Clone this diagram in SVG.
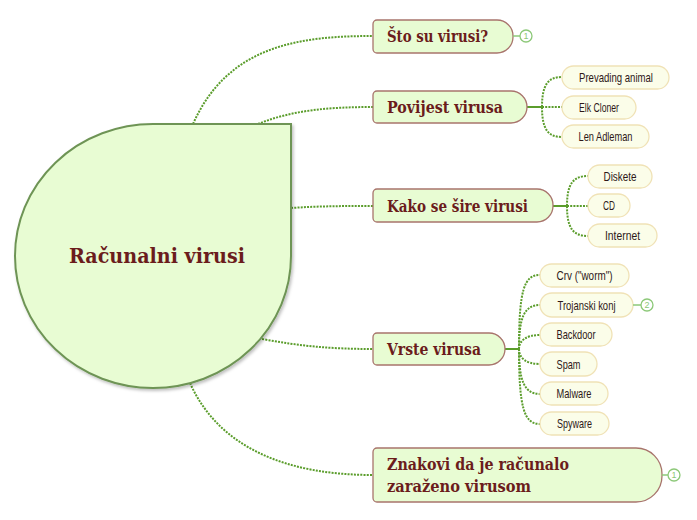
<svg xmlns="http://www.w3.org/2000/svg" width="697" height="520" viewBox="0 0 697 520">
<style>
.bg{fill:#ffffff}
.conn{fill:none;stroke:#5b9d2c;stroke-width:2;stroke-dasharray:2 1.2}
.solid{fill:none;stroke:#5b9d2c;stroke-width:2}
.main{fill:#e8fcd3;stroke:#a8746c;stroke-width:1.3}
.central{fill:#e8fcd3;stroke:#6e9455;stroke-width:2}
.sub{fill:#fbfde9;stroke:#f0e2b6;stroke-width:1.3}
.mt{font-family:"DejaVu Serif","Liberation Serif",serif;font-weight:bold;fill:#6b1c1c}
.st{font-family:"Liberation Sans","DejaVu Sans",sans-serif;font-size:13px;fill:#2e1818;text-anchor:middle}
.badge{fill:#ffffff;stroke:#8cc878;stroke-width:1.3}
.bl{stroke:#8cc878;stroke-width:1.5}
.bt{font-family:"Liberation Sans",sans-serif;font-size:9px;fill:#8cc878;text-anchor:middle}
</style>
<defs>
<filter id="sh" x="-10%" y="-10%" width="125%" height="125%">
<feDropShadow dx="1.5" dy="2" stdDeviation="1.5" flood-color="#000" flood-opacity="0.25"/>
</filter>
</defs>
<rect class="bg" x="0" y="0" width="697" height="520"/>
<g id="connectors">
<path class="conn" d="M193,124 C228,45 300,36 373,36"/>
<path class="conn" d="M258,124 C292,110 330,107 373,107"/>
<path class="conn" d="M291,208 C320,206 345,206 373,206"/>
<path class="conn" d="M262,339 C300,346 330,349 373,349"/>
<path class="conn" d="M190,383 C220,450 290,475 373,475"/>
<path class="solid" d="M527,107 H542"/>
<path class="conn" d="M542,107 C542,85 548,77 562,77"/>
<path class="conn" d="M542,107 H562"/>
<path class="conn" d="M542,107 C542,129 548,137 562,137"/>
<path class="solid" d="M553,206 H567"/>
<path class="conn" d="M567,206 C567,184 573,176 588,176"/>
<path class="conn" d="M567,206 H588"/>
<path class="conn" d="M567,206 C567,228 573,236 588,236"/>
<path class="solid" d="M505,349 H519"/>
<path class="conn" d="M519,349 C519,290 524,275 540,275"/>
<path class="conn" d="M519,349 C519,318 524,305 540,305"/>
<path class="conn" d="M519,349 C519,341 526,335 540,335"/>
<path class="conn" d="M519,349 C519,358 526,364 540,364"/>
<path class="conn" d="M519,349 C519,380 524,394 540,394"/>
<path class="conn" d="M519,349 C519,408 524,424 540,424"/>
</g>
<g id="central">
<path class="central" filter="url(#sh)" d="M153,124 L291,124 L291,256 A138,132 0 1 1 153,124 Z"/>
<text class="mt" x="157" y="263" font-size="20" text-anchor="middle" textLength="176" lengthAdjust="spacingAndGlyphs">Računalni virusi</text>
</g>
<g id="n-sto">
<path class="main" d="M377,20 H497 A16,16 0 0 1 513,36 V37 A16,16 0 0 1 497,53 H377 A4,4 0 0 1 373,49 V24 A4,4 0 0 1 377,20 Z"/>
<text class="mt" x="387" y="42" font-size="16" textLength="101" lengthAdjust="spacingAndGlyphs">Što su virusi?</text>
<line class="bl" x1="513" y1="36" x2="520" y2="36"/>
<circle class="badge" cx="526" cy="36" r="6"/>
<text class="bt" x="526" y="39.2">1</text>
</g>
<g id="n-povijest">
<path class="main" d="M377,91 H511 A16,16 0 0 1 527,107 A16,16 0 0 1 511,123 H377 A4,4 0 0 1 373,119 V95 A4,4 0 0 1 377,91 Z"/>
<text class="mt" x="387" y="113" font-size="16" textLength="116" lengthAdjust="spacingAndGlyphs">Povijest virusa</text>
</g>
<g id="n-prevading">
<rect class="sub" x="562" y="66" width="107" height="23" rx="11.5"/>
<text class="st" x="616" y="82" textLength="74" lengthAdjust="spacingAndGlyphs">Prevading animal</text>
</g>
<g id="n-elk">
<rect class="sub" x="562" y="96" width="74" height="23" rx="11.5"/>
<text class="st" x="599" y="112" textLength="40" lengthAdjust="spacingAndGlyphs">Elk Cloner</text>
</g>
<g id="n-len">
<rect class="sub" x="562" y="125" width="87" height="23" rx="11.5"/>
<text class="st" x="605.5" y="141" textLength="54" lengthAdjust="spacingAndGlyphs">Len Adleman</text>
</g>
<g id="n-kako">
<path class="main" d="M377,189 H537 A16,16 0 0 1 553,205 V206 A16,16 0 0 1 537,222 H377 A4,4 0 0 1 373,218 V193 A4,4 0 0 1 377,189 Z"/>
<text class="mt" x="387" y="212" font-size="16" textLength="141" lengthAdjust="spacingAndGlyphs">Kako se šire virusi</text>
</g>
<g id="n-diskete">
<rect class="sub" x="588" y="165" width="64" height="23" rx="11.5"/>
<text class="st" x="620" y="181" textLength="33" lengthAdjust="spacingAndGlyphs">Diskete</text>
</g>
<g id="n-cd">
<rect class="sub" x="588" y="194" width="42" height="23" rx="11.5"/>
<text class="st" x="609" y="210" textLength="12" lengthAdjust="spacingAndGlyphs">CD</text>
</g>
<g id="n-internet">
<rect class="sub" x="588" y="224" width="69" height="23" rx="11.5"/>
<text class="st" x="622.5" y="240" textLength="35" lengthAdjust="spacingAndGlyphs">Internet</text>
</g>
<g id="n-vrste">
<path class="main" d="M377,333 H489 A16,16 0 0 1 505,349 A16,16 0 0 1 489,365 H377 A4,4 0 0 1 373,361 V337 A4,4 0 0 1 377,333 Z"/>
<text class="mt" x="387" y="355" font-size="16" textLength="94" lengthAdjust="spacingAndGlyphs">Vrste virusa</text>
</g>
<g id="n-crv">
<rect class="sub" x="540" y="264" width="89" height="23" rx="11.5"/>
<text class="st" x="584.5" y="280" textLength="56" lengthAdjust="spacingAndGlyphs">Crv ("worm")</text>
</g>
<g id="n-trojanski">
<rect class="sub" x="540" y="293" width="93" height="24" rx="12"/>
<text class="st" x="586.5" y="309.5" textLength="58" lengthAdjust="spacingAndGlyphs">Trojanski konj</text>
<line class="bl" x1="633" y1="305" x2="641" y2="305"/>
<circle class="badge" cx="647" cy="305" r="6"/>
<text class="bt" x="647" y="308.2">2</text>
</g>
<g id="n-backdoor">
<rect class="sub" x="540" y="323" width="72" height="23" rx="11.5"/>
<text class="st" x="576" y="339" textLength="39" lengthAdjust="spacingAndGlyphs">Backdoor</text>
</g>
<g id="n-spam">
<rect class="sub" x="540" y="352" width="57" height="24" rx="12"/>
<text class="st" x="568.5" y="368.5" textLength="24" lengthAdjust="spacingAndGlyphs">Spam</text>
</g>
<g id="n-malware">
<rect class="sub" x="540" y="382" width="68" height="23" rx="11.5"/>
<text class="st" x="574" y="398" textLength="35" lengthAdjust="spacingAndGlyphs">Malware</text>
</g>
<g id="n-spyware">
<rect class="sub" x="540" y="412" width="69" height="23" rx="11.5"/>
<text class="st" x="574.5" y="428" textLength="35" lengthAdjust="spacingAndGlyphs">Spyware</text>
</g>
<g id="n-znakovi">
<path class="main" d="M377,448 H636 A26,26 0 0 1 662,474 V476 A26,26 0 0 1 636,502 H377 A4,4 0 0 1 373,498 V452 A4,4 0 0 1 377,448 Z"/>
<text class="mt" x="387" y="470" font-size="16" textLength="182" lengthAdjust="spacingAndGlyphs">Znakovi da je računalo</text>
<text class="mt" x="387" y="492" font-size="16" textLength="144" lengthAdjust="spacingAndGlyphs">zaraženo virusom</text>
<line class="bl" x1="662" y1="475" x2="668" y2="475"/>
<circle class="badge" cx="674" cy="475" r="6"/>
<text class="bt" x="674" y="478.2">1</text>
</g>
</svg>
